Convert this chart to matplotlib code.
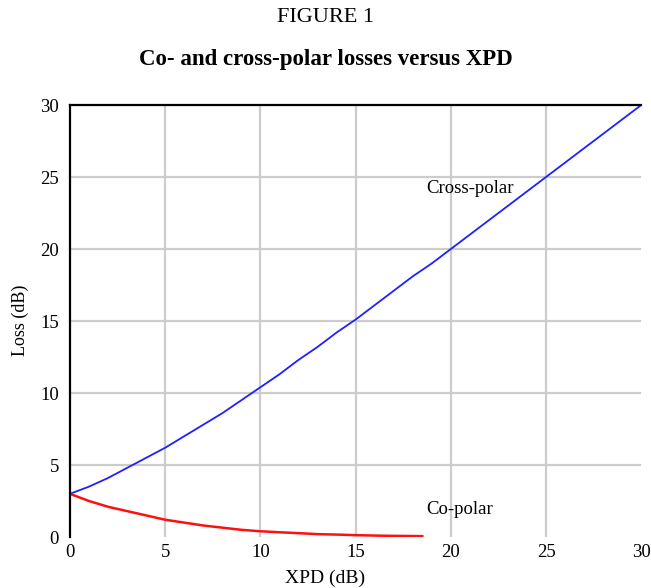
import matplotlib
matplotlib.use("Agg")
import matplotlib.pyplot as plt

# ---- DATA ----
xpd_cross = list(range(0, 31))
loss_cross = [3.0, 3.5, 4.1, 4.8, 5.5, 6.2, 7.0, 7.8, 8.6, 9.5, 10.4,
              11.3, 12.3, 13.2, 14.2, 15.1, 16.1, 17.1, 18.1, 19.0, 20.0,
              21.0, 22.0, 23.0, 24.0, 25.0, 26.0, 27.0, 28.0, 29.0, 30.0]

xpd_co = list(range(0, 19)) + [18.5]
loss_co = [3.0, 2.5, 2.1, 1.8, 1.5, 1.2, 1.0, 0.8, 0.65, 0.5, 0.4,
           0.33, 0.27, 0.2, 0.17, 0.13, 0.1, 0.08, 0.07, 0.06]

ticks = [0, 5, 10, 15, 20, 25, 30]

plt.rcParams["font.family"] = ["Liberation Serif", "DejaVu Serif"]

fig = plt.figure(figsize=(6.51, 5.88), dpi=100)
ax = fig.add_axes([0.1075, 0.0867, 0.8775, 0.7347])

ax.plot(xpd_cross, loss_cross, color="#2020ff", linewidth=1.3)
ax.plot(xpd_co, loss_co, color="#ff1010", linewidth=1.8)

ax.set_xlim(0, 30)
ax.set_ylim(0, 30)
ax.set_xticks(ticks)
ax.set_yticks(ticks)
ax.tick_params(length=0, labelsize=13.5)
ax.tick_params(axis="x", pad=5)
ax.tick_params(axis="y", pad=8)

# grid only on the inner lines
for t in ticks[1:-1]:
    ax.axvline(t, color="#cccccc", linewidth=1.6, zorder=0)
    ax.axhline(t, color="#cccccc", linewidth=1.6, zorder=0)

for side in ["right", "bottom"]:
    ax.spines[side].set_visible(False)
for side in ["left", "top"]:
    ax.spines[side].set_linewidth(1.6)
    ax.spines[side].set_color("black")

ax.text(18.7, 24.2, "Cross-polar", fontsize=13.5, va="center", ha="left")
ax.text(18.7, 1.9, "Co-polar", fontsize=13.5, va="center", ha="left")

fig.text(0.5, 1 - 17 / 588, "FIGURE 1", ha="center", va="center", fontsize=16)
fig.text(0.5, 1 - 59 / 588, "Co- and cross-polar losses versus XPD",
         ha="center", va="center", fontsize=16.5, fontweight="bold")
fig.text(0.5, 1 - 578 / 588, "XPD (dB)", ha="center", va="center", fontsize=14)
fig.text(20 / 651, 1 - 320 / 588, "Loss (dB)", ha="center", va="center",
         rotation=90, fontsize=13)

fig.savefig("out.png", dpi=100)
